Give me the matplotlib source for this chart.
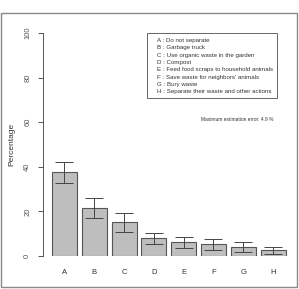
import matplotlib
matplotlib.use("Agg")
import matplotlib.pyplot as plt
from matplotlib.patches import Rectangle

plt.rcParams["font.family"] = ["Liberation Sans", "DejaVu Sans"]

categories = ["A", "B", "C", "D", "E", "F", "G", "H"]
values = [37.5, 21.6, 15.1, 7.9, 6.1, 5.2, 4.2, 2.6]
errors = [4.7, 4.4, 4.4, 2.3, 2.6, 2.4, 2.3, 1.6]
legend_labels = [
    "A : Do not separate",
    "B : Garbage truck",
    "C : Use organic waste in the garden",
    "D : Compost",
    "E : Feed food scraps to household animals",
    "F : Save waste for neighbors' animals",
    "G : Bury waste",
    "H : Separate their waste and other actions",
]
note = "Maximum estimation error: 4.9 %"
yticks = [0, 20, 40, 60, 80, 100]

W, H = 299, 289
fig = plt.figure(figsize=(W / 100, H / 100), dpi=100)

def fx(px):
    return px / W

def fy(py):
    return 1 - py / H

# outer frame
fig.patches.append(Rectangle((fx(0.5), fy(287)), fx(296.5), fy(13) - fy(287),
                             transform=fig.transFigure, fill=False,
                             edgecolor="#888888", linewidth=1.0))

ax = fig.add_axes([fx(43), fy(256), fx(290) - fx(43), fy(33) - fy(256)])
x = list(range(len(categories)))
ax.bar(x, values, width=0.84, color="#bebebe", edgecolor="#555555", linewidth=0.8)
ax.errorbar(x, values, yerr=errors, fmt="none", ecolor="#444444",
            elinewidth=0.7, capsize=6.5, capthick=0.7)
ax.set_xlim(-0.721, 7.567)
ax.set_ylim(0, 100)
for s in ["top", "right", "bottom"]:
    ax.spines[s].set_visible(False)
ax.spines["left"].set_bounds(0, 100)
ax.spines["left"].set_color("#555555")
ax.spines["left"].set_linewidth(0.7)
ax.set_yticks(yticks)
ax.set_yticklabels([str(t) for t in yticks], rotation=90, va="center",
                   fontsize=5.5, color="#555555")
ax.tick_params(axis="y", length=3.5, width=0.7, color="#555555", pad=5)
ax.set_xticks(x)
ax.set_xticklabels(categories, fontsize=5.5, color="#333333")
ax.tick_params(axis="x", length=0, pad=9)
ax.set_ylabel("Percentage", fontsize=6, color="#333333", labelpad=6)
ax.patch.set_alpha(0)

# legend box
fig.patches.append(Rectangle((fx(147), fy(98)), fx(277) - fx(147), fy(33) - fy(98),
                             transform=fig.transFigure, fill=False,
                             edgecolor="#666666", linewidth=0.7))
for i, lab in enumerate(legend_labels):
    fig.text(fx(157), fy(40.7 + i * 7.29), lab, fontsize=4.4, color="#333333",
             va="center", ha="left")

fig.text(fx(237.5), fy(119.5), note, fontsize=3.5, color="#333333",
         ha="center", va="center")

fig.savefig("out.png", dpi=100)
